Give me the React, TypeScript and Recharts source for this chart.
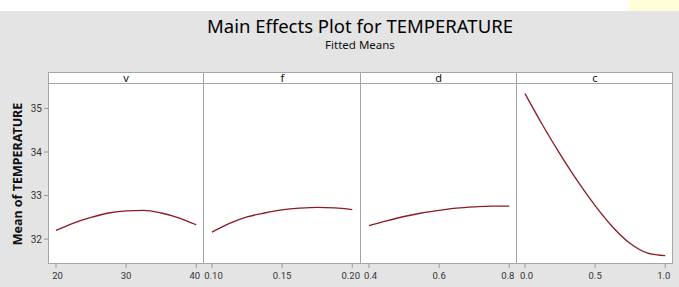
import React from 'react';
import { LineChart, Line, XAxis, YAxis, Label } from 'recharts';

// fitted means
const vLevels = [20, 22.5, 25, 27.5, 30, 32.5, 35, 37.5, 40];
const vMeans = [32.2, 32.37, 32.5, 32.6, 32.65, 32.66, 32.6, 32.49, 32.33];

const fLevels = [0.1, 0.1125, 0.125, 0.1375, 0.15, 0.1625, 0.175, 0.1875, 0.2];
const fMeans = [32.16, 32.36, 32.51, 32.6, 32.67, 32.71, 32.73, 32.72, 32.68];

const dLevels = [0.4, 0.45, 0.5, 0.55, 0.6, 0.65, 0.7, 0.75, 0.8];
const dMeans = [32.31, 32.42, 32.52, 32.6, 32.66, 32.71, 32.74, 32.76, 32.76];

const cLevels = [0, 0.125, 0.25, 0.375, 0.5, 0.625, 0.75, 0.875, 1];
const cMeans = [35.34, 34.62, 33.95, 33.33, 32.77, 32.28, 31.9, 31.68, 31.62];

const vTicks = [20, 30, 40];
const fTicks = [0.1, 0.15, 0.2];
const dTicks = [0.4, 0.6, 0.8];
const cTicks = [0, 0.5, 1];
const yTicks = [32, 33, 34, 35];

const factors = ['v', 'f', 'd', 'c'];

const toRows = (xs: number[], ys: number[]) => xs.map((x, i) => ({ x, y: ys[i] }));

const panels = [
  { name: factors[0], data: toRows(vLevels, vMeans), ticks: vTicks, domain: [20, 40], fmt: (t: number) => String(t) },
  { name: factors[1], data: toRows(fLevels, fMeans), ticks: fTicks, domain: [0.1, 0.2], fmt: (t: number) => t.toFixed(2) },
  { name: factors[2], data: toRows(dLevels, dMeans), ticks: dTicks, domain: [0.4, 0.8], fmt: (t: number) => t.toFixed(1) },
  { name: factors[3], data: toRows(cLevels, cMeans), ticks: cTicks, domain: [0, 1], fmt: (t: number) => t.toFixed(1) },
];

const FONT = '"Noto Sans", "Open Sans", sans-serif';
const TICK_FONT = 'Roboto, "Noto Sans", sans-serif';
const PANEL_LEFT = 48;
const PANEL_W = 156.25;
const PANEL_TOP = 84;
const PANEL_H = 180;
const STRIP_TOP = 72;
const EXTRA = 14; // room for edge tick labels
const Y_DOMAIN = [31.43, 35.56];
const BORDER = '#a6a6a6';

// x tick label, edge labels nudged inward a little so neighbours don't touch
const XTick = (props: any) => {
  const { x, y, payload, index, visibleTicksCount, fmt } = props;
  let dx = 0;
  if (index === 0) dx = 1.5;
  if (index === visibleTicksCount - 1) dx = -1.5;
  return (
    <text
      x={x + dx}
      y={y + 9}
      textAnchor="middle"
      fontSize={9.5}
      fill="#333"
      fontFamily={TICK_FONT}
    >
      {fmt(payload.value)}
    </text>
  );
};

export default function App() {
  return (
    <div
      style={{
        position: 'absolute',
        left: 0,
        top: 0,
        width: 679,
        height: 287,
        background: '#e4e4e4',
        fontFamily: FONT,
        overflow: 'hidden',
      }}
    >
      <div style={{ position: 'absolute', left: 0, top: 0, width: 679, height: 11, background: '#fff' }} />
      <div style={{ position: 'absolute', left: 629, top: 0, width: 50, height: 11, background: '#fffcd8' }} />

      <div
        style={{
          position: 'absolute',
          left: 0,
          width: 720,
          top: 14,
          textAlign: 'center',
          fontSize: 18.5,
          color: '#000',
          lineHeight: '24px',
        }}
      >
        Main Effects Plot for TEMPERATURE
      </div>
      <div
        style={{
          position: 'absolute',
          left: 0,
          width: 720,
          top: 38,
          textAlign: 'center',
          fontSize: 11.5,
          color: '#111',
          lineHeight: '14px',
        }}
      >
        Fitted Means
      </div>

      {panels.map((p, i) => (
        <React.Fragment key={p.name}>
          <div
            style={{
              position: 'absolute',
              left: PANEL_LEFT + i * PANEL_W,
              top: STRIP_TOP,
              width: PANEL_W,
              height: PANEL_TOP - STRIP_TOP + PANEL_H,
              boxSizing: 'border-box',
              border: `1px solid ${BORDER}`,
              borderLeft: i === 0 ? `1px solid ${BORDER}` : 'none',
              background: '#fff',
            }}
          />
          <div
            style={{
              position: 'absolute',
              left: PANEL_LEFT + i * PANEL_W,
              top: STRIP_TOP,
              width: PANEL_W,
              height: PANEL_TOP - STRIP_TOP,
              boxSizing: 'border-box',
              borderBottom: `1px solid ${BORDER}`,
              textAlign: 'center',
              fontSize: 11,
              lineHeight: '11px',
              color: '#111',
            }}
          >
            {p.name}
          </div>
          <div style={{ position: 'absolute', left: i === 0 ? 0 : PANEL_LEFT + i * PANEL_W - EXTRA, top: PANEL_TOP }}>
            <LineChart
              width={PANEL_W + EXTRA + (i === 0 ? PANEL_LEFT : EXTRA)}
              height={PANEL_H + 22}
              data={p.data}
              margin={{ top: 0, right: EXTRA, bottom: 0, left: i === 0 ? 0 : EXTRA }}
            >
              <XAxis
                dataKey="x"
                type="number"
                domain={p.domain}
                ticks={p.ticks}
                padding={{ left: 8, right: 8 }}
                axisLine={false}
                tickLine={{ stroke: '#999' }}
                tickSize={4}
                height={22}
                tick={<XTick fmt={p.fmt} />}
                interval={0}
              />
              <YAxis
                hide={i !== 0}
                type="number"
                domain={Y_DOMAIN}
                allowDataOverflow
                ticks={yTicks}
                width={PANEL_LEFT}
                axisLine={false}
                tickLine={{ stroke: '#999' }}
                tickSize={4}
                tick={{ fontSize: 10, fill: '#333', fontFamily: TICK_FONT }}
              >
                <Label
                  value="Mean of TEMPERATURE"
                  angle={-90}
                  position="insideLeft"
                  offset={18}
                  style={{ textAnchor: 'middle', fontSize: 12.5, fontWeight: 700, fill: '#111', fontFamily: FONT }}
                />
              </YAxis>
              <Line
                dataKey="y"
                type="monotone"
                stroke="#8a1c22"
                strokeWidth={1.3}
                dot={false}
                isAnimationActive={false}
              />
            </LineChart>
          </div>
        </React.Fragment>
      ))}
    </div>
  );
}
